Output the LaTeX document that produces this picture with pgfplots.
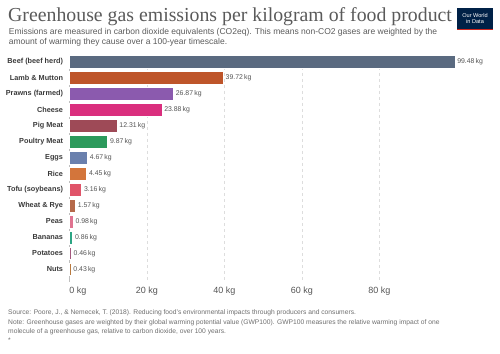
\documentclass[border=0pt]{standalone}
\usepackage{pgfplots}
\pgfplotsset{compat=1.18}
\usepackage{fontspec}
\setmainfont{Liberation Sans}
\newfontfamily\titlefont{Liberation Serif}
\definecolor{titlegray}{HTML}{5A5A5A}
\definecolor{subgray}{HTML}{5B5B5B}
\definecolor{srcgray}{HTML}{6E6E6E}
\definecolor{lblgray}{HTML}{3A3A3A}
\definecolor{valgray}{HTML}{555555}
\definecolor{gridgray}{HTML}{DDDDDD}
\definecolor{owidnavy}{HTML}{002147}
\definecolor{owidred}{HTML}{CE261E}
\definecolor{cA}{HTML}{5A6A80}
\definecolor{cB}{HTML}{BE552A}
\definecolor{cC}{HTML}{8B5AAE}
\definecolor{cD}{HTML}{DA2F7E}
\definecolor{cE}{HTML}{9E4A57}
\definecolor{cF}{HTML}{2C9A5C}
\definecolor{cG}{HTML}{6A80AD}
\definecolor{cH}{HTML}{D3753B}
\definecolor{cI}{HTML}{E05469}
\definecolor{cJ}{HTML}{B5694A}
\definecolor{cK}{HTML}{E07390}
\definecolor{cL}{HTML}{2CA584}
\definecolor{cM}{HTML}{A3587E}
\definecolor{cN}{HTML}{B8793E}
\begin{document}
\begin{tikzpicture}
\path[use as bounding box] (0pt,0pt) rectangle (500pt,353pt);
% title
\node[anchor=base west, inner sep=0, text=titlegray, font=\titlefont\fontsize{19.8}{20}\selectfont] at (8pt,331.3pt) {Greenhouse gas emissions per kilogram of food product};
\node[anchor=base west, inner sep=0, text=subgray, font=\fontsize{8.5}{9}\selectfont] at (8.7pt,318pt) {Emissions are measured in carbon dioxide equivalents (CO2eq). This means non-CO2 gases are weighted by the};
\node[anchor=base west, inner sep=0, text=subgray, font=\fontsize{8.5}{9}\selectfont] at (8.7pt,308.7pt) {amount of warming they cause over a 100-year timescale.};
% logo
\fill[owidnavy] (457pt,324pt) rectangle (493pt,345pt);
\fill[owidred] (457pt,322.5pt) rectangle (493pt,324pt);
\node[text=white, font=\fontsize{5.6}{5.8}\selectfont, inner sep=0, align=center] at (475pt,334.5pt) {Our World\\in Data};
% source
\node[anchor=base west, inner sep=0, text=srcgray, font=\fontsize{6.7}{7}\selectfont] at (8pt,38pt) {Source: Poore, J., \& Nemecek, T. (2018). Reducing food's environmental impacts through producers and consumers.};
\node[anchor=base west, inner sep=0, text=srcgray, font=\fontsize{6.7}{7}\selectfont] at (8pt,28.7pt) {Note: Greenhouse gases are weighted by their global warming potential value (GWP100). GWP100 measures the relative warming impact of one};
\node[anchor=base west, inner sep=0, text=srcgray, font=\fontsize{6.7}{7}\selectfont] at (8pt,19.7pt) {molecule of a greenhouse gas, relative to carbon dioxide, over 100 years.};
\node[anchor=base west, inner sep=0, text=srcgray, font=\fontsize{6.7}{7}\selectfont] at (8pt,10.7pt) {*};
\begin{axis}[
  at={(69.3pt,71.3pt)}, anchor=south west,
  scale only axis, width=387.5pt, height=226.7pt,
  xbar, bar width=12.7pt, bar shift=0pt,
  xmin=0, xmax=100,
  ymin=-0.42, ymax=13.78, y dir=reverse,
  axis line style={draw=none},
  tick style={draw=none},
  ytick={0,...,13},
  yticklabels={Beef (beef herd),Lamb \& Mutton,Prawns (farmed),Cheese,Pig Meat,Poultry Meat,Eggs,Rice,Tofu (soybeans),Wheat \& Rye,Peas,Bananas,Potatoes,Nuts},
  yticklabel style={font=\bfseries\fontsize{7.3}{8}\selectfont, text=lblgray, xshift=1.5pt},
  xtick={0,20,40,60,80},
  xticklabels={\makebox[0pt][l]{0 kg},20 kg,40 kg,60 kg,80 kg},
  xticklabel style={font=\fontsize{9}{9}\selectfont, text=valgray, yshift=-2pt},
  xmajorgrids, grid style={gridgray, dashed, line width=0.5pt},
  /pgf/number format/assume math mode=true,
  nodes near coords={\pgfmathprintnumber[fixed,precision=2,fixed zerofill,assume math mode=true]{\pgfplotspointmeta}\,kg},
  point meta=explicit,
  nodes near coords style={font=\fontsize{6.9}{7}\selectfont, text=valgray, anchor=west, xshift=-1pt},
  every axis plot/.append style={draw=white, line width=0.3pt},
  clip=false,
]
\draw[gray!50, line width=0.6pt] (axis cs:0,-0.42) -- (axis cs:0,13.78);
\addplot[fill=cA] coordinates {(99.48,0) [99.48]};
\addplot[fill=cB] coordinates {(39.72,1) [39.72]};
\addplot[fill=cC] coordinates {(26.87,2) [26.87]};
\addplot[fill=cD] coordinates {(23.88,3) [23.88]};
\addplot[fill=cE] coordinates {(12.31,4) [12.31]};
\addplot[fill=cF] coordinates {(9.87,5) [9.87]};
\addplot[fill=cG] coordinates {(4.67,6) [4.67]};
\addplot[fill=cH] coordinates {(4.45,7) [4.45]};
\addplot[fill=cI] coordinates {(3.16,8) [3.16]};
\addplot[fill=cJ] coordinates {(1.57,9) [1.57]};
\addplot[fill=cK] coordinates {(0.98,10) [0.98]};
\addplot[fill=cL] coordinates {(0.86,11) [0.86]};
\addplot[fill=cM] coordinates {(0.46,12) [0.46]};
\addplot[fill=cN] coordinates {(0.43,13) [0.43]};
\end{axis}
\end{tikzpicture}
\end{document}
